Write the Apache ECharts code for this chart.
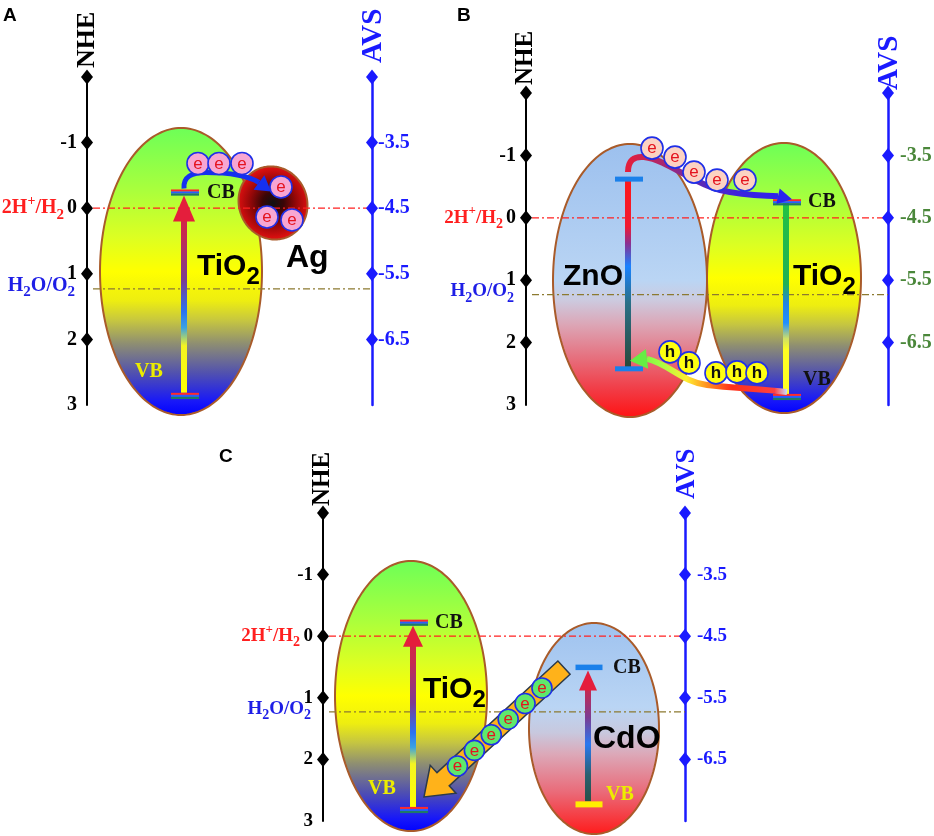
<!DOCTYPE html>
<html><head><meta charset="utf-8">
<script src="https://cdn.jsdelivr.net/npm/echarts@6.0.0/dist/echarts.min.js"></script>
<style>html,body{margin:0;padding:0;background:#fff;}#chart{width:934px;height:836px;}</style>
</head><body><div id="chart"></div>
<script>
// ================= DATA =================
const nheTicks = [-2, -1, 0, 1, 2, 3];
const nheTickLabels = ['', '-1', '0', '1', '2', '3'];
const nheDiamonds = [-2, -1, 0, 1, 2];
const avsTicks = [-2.5, -3.5, -4.5, -5.5, -6.5];
const avsTickLabels = ['', '-3.5', '-4.5', '-5.5', '-6.5'];
const redoxNames = ['2H+/H2', 'H2O/O2'];
const redoxNHE = [0, 1.23];
const panelNames = ['A', 'B', 'C'];

const materialsA = ['TiO2', 'Ag'];
const cbA = [-0.24, null];
const vbA = [2.86, null];
const materialsB = ['ZnO', 'TiO2'];
const cbB = [-0.62, -0.25];
const vbB = [2.42, 2.87];
const materialsC = ['TiO2', 'CdO'];
const cbC = [-0.22, 0.51];
const vbC = [2.82, 2.73];
const carriersA = ['e', 'e', 'e', 'e', 'e', 'e'];
const electronsB = ['e', 'e', 'e', 'e', 'e'];
const holesB = ['h', 'h', 'h', 'h', 'h'];
const carriersC = ['e', 'e', 'e', 'e', 'e', 'e'];

// ================= STYLE / LAYOUT =================
const SERIF = '"Liberation Serif", "Times New Roman", serif';
const SANS = '"Liberation Sans", Arial, sans-serif';
const BLUE = '#1a1aff';

const GRAD = {
  tio2: [[0,'#6cff58'],[0.22,'#aaff3c'],[0.38,'#dcff22'],[0.5,'#ffff00'],[0.6,'#eeee10'],[0.67,'#c6c640'],[0.75,'#8e8e72'],[0.85,'#5252ae'],[0.95,'#1818f8'],[1,'#0000ff']],
  zno: [[0,'#9cc0ee'],[0.5,'#bad5f4'],[0.57,'#cccbe0'],[0.66,'#dca6b6'],[0.78,'#e6707e'],[0.9,'#f23a44'],[1,'#ff1212']],
  cdo: [[0,'#9ec2ef'],[0.4,'#bad5f4'],[0.52,'#c8c8de'],[0.62,'#dca8b8'],[0.8,'#ea6a78'],[1,'#ff1a1a']]
};
const LINEGRAD = {
  tio2: [[0,'#e41e3c'],[0.2,'#c42a52'],[0.42,'#7c3c92'],[0.58,'#2a72f2'],[0.66,'#3aa2e2'],[0.75,'#f4f422'],[1,'#ffff00']],
  tio2b: [[0,'#22c244'],[0.42,'#22b054'],[0.52,'#2284e4'],[0.62,'#2290ff'],[0.7,'#cfe066'],[0.76,'#ffff22'],[1,'#ffff22']],
  zno: [[0,'#ff1818'],[0.25,'#f01a32'],[0.34,'#8a3092'],[0.46,'#1a82ff'],[0.65,'#2a7088'],[1,'#28483a']],
  cdo: [[0,'#e41e3c'],[0.15,'#c42a52'],[0.35,'#7c3c92'],[0.55,'#2a78f0'],[0.78,'#2a6070'],[1,'#2a4e44']]
};

const PANELS = [
  { grid:{left:87, top:77, width:285, height:328}, mats:materialsA, cb:cbA, vb:vbA,
    tickFont:20, redoxFont:20, avsColor:BLUE, avsMargin:6, nameSize:[26,29], nameGap:[9,14], titlePos:[3,6],
    ellipses:[{cx:94, rx:81, top:-1.223, bot:3.152, fill:'tio2'},
              {cx:186, rx:34, top:-0.644, bot:0.484, fill:'ag', rot:-0.4}],
    cols:[{x:97, bar:'stripe', line:'tio2', head:[26,11], cbLab:[23,0], vbLab:[-49,-24], vbColor:'#ecec00'}, null],
    names:[{x:110, y:0.896, size:30}, {x:199, y:0.759, size:32}] },
  { grid:{left:526, top:93, width:362, height:312}, mats:materialsB, cb:cbB, vb:vbB,
    tickFont:20, redoxFont:19, avsColor:'#4a873a', avsMargin:12, nameSize:[25,29], nameGap:[8,3], titlePos:[457,6],
    ellipses:[{cx:104, rx:77, top:-1.183, bot:3.192, fill:'zno'},
              {cx:258, rx:77, top:-1.199, bot:3.128, fill:'tio2'}],
    cols:[{x:102, bar:'blue', line:'zno'},
          {x:260, bar:'stripe', line:'tio2b', cbLab:[22,0], vbLab:[17,-17], vbColor:'#111'}],
    names:[{x:37, y:0.949, size:30}, {x:267, y:0.949, size:30}] },
  { grid:{left:323, top:513, width:362, height:308}, mats:materialsC, cb:cbC, vb:vbC,
    tickFont:19, redoxFont:19, avsColor:BLUE, avsMargin:12, nameSize:[25,27], nameGap:[7,14], titlePos:[219,447],
    ellipses:[{cx:88, rx:76, top:-1.221, bot:3.162, fill:'tio2'},
              {cx:271, rx:65, top:-0.214, bot:3.211, fill:'cdo'}],
    cols:[{x:90, bar:'stripe', line:'tio2', head:[21,10], cbLab:[22,0], vbLab:[-45,-21], vbColor:'#ecec00'},
          {x:265, bar:'cdo', line:'cdo', head:[20,9], cbLab:[25,0], vbLab:[18,-10], vbColor:'#ecec00'}],
    names:[{x:100, y:0.873, size:30}, {x:270, y:1.669, size:32}] }
];

// ================= HELPERS =================
function chemRich(str) {
  let out = '', buf = '', prevLetter = false;
  const flush = () => { if (buf) { out += '{m|' + buf + '}'; buf = ''; } };
  for (const ch of str) {
    if (/\d/.test(ch) && prevLetter) { flush(); out += '{s|' + ch + '}'; prevLetter = false; }
    else if (ch === '+') { flush(); out += '{p|+}'; prevLetter = false; }
    else { buf += ch; prevLetter = /[A-Za-z]/.test(ch); }
  }
  flush();
  return out;
}
function grad(stops, x, y, x2, y2, global) {
  return { type:'linear', x:x, y:y, x2:x2, y2:y2, global:!!global,
           colorStops: stops.map(s => ({offset:s[0], color:s[1]})) };
}
function textEl(x, y, text, opt) {
  const st = Object.assign({ text:text, fill:'#000', align:'left', verticalAlign:'middle' }, opt.style || {});
  st.textAlign = st.align;
  st.textVerticalAlign = st.verticalAlign;
  return { type:'text', x:x, y:y, rotation:opt.rotation || 0, style:st };
}
function carrier(x, y, ch, fill, r) {
  return { type:'group', children:[
    { type:'circle', shape:{cx:x, cy:y, r:r}, style:{fill:fill, stroke:'#1f2fe8', lineWidth:1.6} },
    textEl(x, y + 0.5, ch, { style:{ fill: ch === 'e' ? '#e4141e' : '#111', fontSize:17,
      fontFamily:SANS, fontWeight: ch === 'h' ? 'bold' : 'normal', align:'center' } })
  ]};
}
function headPoly(tip, base, hw) {
  const dx = tip[0] - base[0], dy = tip[1] - base[1], L = Math.hypot(dx, dy);
  const nx = -dy / L, ny = dx / L;
  return [[tip[0], tip[1]], [base[0] + nx*hw, base[1] + ny*hw], [base[0] - nx*hw, base[1] - ny*hw]];
}
function ellipsePoints(cx, cy, rx, ry, rot) {
  const pts = [];
  for (let k = 0; k < 180; k++) {
    const t = k / 180 * 2 * Math.PI;
    const x = rx * Math.cos(t), y = ry * Math.sin(t);
    pts.push([cx + x*Math.cos(rot) - y*Math.sin(rot), cy + x*Math.sin(rot) + y*Math.cos(rot)]);
  }
  return pts;
}
function bars(kind, x, y, isCB) {
  const w = 28;
  if (kind === 'stripe') {
    return [
      { type:'rect', shape:{x:x-w/2, y:y-3, width:w, height:2.2}, style:{fill:'#ff2a2a'} },
      { type:'rect', shape:{x:x-w/2, y:y-1, width:w, height:2.2}, style:{fill:'#2a5cff'} },
      { type:'rect', shape:{x:x-w/2, y:y+1, width:w, height:2.2}, style:{fill:'#1e7a66'} }
    ];
  }
  if (kind === 'blue') {
    return [{ type:'rect', shape:{x:x-w/2, y:y-2.5, width:w, height:5}, style:{fill:'#1a80ea'} }];
  }
  return [{ type:'rect', shape:{x:x-13.5, y:y-3, width:27, height:isCB ? 5.5 : 6},
            style:{fill: isCB ? '#1a80ea' : '#ffee00'} }];
}

// ================= RENDERERS =================
function renderEllipse(p, j, api) {
  const e = p.ellipses[j];
  const c = api.coord([e.cx, (e.top + e.bot) / 2]);
  const t = api.coord([e.cx, e.top]), b = api.coord([e.cx, e.bot]);
  const ry = Math.abs(b[1] - t[1]) / 2;
  let fill;
  if (e.fill === 'ag') {
    fill = { type:'radial', x:0.5, y:0.5, r:0.5, global:false, colorStops:[
      {offset:0, color:'#111'}, {offset:0.3, color:'#3a0606'}, {offset:0.65, color:'#960808'}, {offset:1, color:'#dc1010'}] };
  } else {
    fill = grad(GRAD[e.fill], 0, 0, 0, 1, false);
  }
  return { type:'polygon', shape:{points: ellipsePoints(c[0], c[1], e.rx, ry, e.rot || 0)},
           style:{fill:fill, stroke:'#a95b2a', lineWidth:2} };
}

function renderRedox(p, api, j) {
  const v = api.value(1);
  const a = api.coord([0, v]), b = api.coord([p.grid.width, v]);
  const color = j === 0 ? '#ff2020' : '#8c7a30';
  const labColor = j === 0 ? '#ff1f1f' : '#1e1ee6';
  const off = j === 0 ? 23 : 12;
  const dy = j === 0 ? 0 : -3;
  const f = p.redoxFont;
  return { type:'group', children:[
    { type:'line', shape:{x1:a[0] + 6, y1:a[1], x2:b[0], y2:b[1]},
      style:{stroke:color, lineWidth:1.3, lineDash:[7,3,2,3]} },
    textEl(a[0] - off, a[1] + dy, chemRich(redoxNames[j]), { style:{
      align:'right', fill:labColor,
      rich:{
        m:{fontSize:f, fontFamily:SERIF, fontWeight:'bold', fill:labColor, lineHeight:f + 8, verticalAlign:'middle'},
        p:{fontSize:f - 6, fontFamily:SERIF, fontWeight:'bold', fill:labColor, lineHeight:f - 6, verticalAlign:'top'},
        s:{fontSize:f - 5, fontFamily:SERIF, fontWeight:'bold', fill:labColor, lineHeight:f - 5, verticalAlign:'bottom'}
      } } })
  ]};
}

function renderBand(p, api) {
  const j = api.value(0), cb = api.value(1), vb = api.value(2);
  const col = p.cols[j];
  const pc = api.coord([col.x, cb]), pv = api.coord([col.x, vb]);
  const x = pc[0], lw = 6;
  const ch = [];
  if (col.head) {
    const tipY = pc[1] + 3, baseY = tipY + col.head[0];
    ch.push({ type:'rect', shape:{x:x - lw/2, y:baseY - 1, width:lw, height:(pv[1] - 3) - (baseY - 1)},
              style:{fill: grad(LINEGRAD[col.line], 0, tipY, 0, pv[1], true)} });
    ch.push({ type:'polygon', shape:{points:[[x, tipY], [x - col.head[1], baseY], [x + col.head[1], baseY]]},
              style:{fill:'#e41e3c'} });
  } else {
    ch.push({ type:'rect', shape:{x:x - lw/2, y:pc[1], width:lw, height:pv[1] - pc[1]},
              style:{fill: grad(LINEGRAD[col.line], 0, pc[1], 0, pv[1], true)} });
  }
  bars(col.bar, x + 1, pc[1], true).forEach(b => ch.push(b));
  bars(col.bar, x + 1, pv[1], false).forEach(b => ch.push(b));
  if (col.cbLab) {
    ch.push(textEl(x + col.cbLab[0], pc[1] + col.cbLab[1], 'CB',
      { style:{fill:'#111', fontSize:20, fontFamily:SERIF, fontWeight:'bold'} }));
  }
  if (col.vbLab) {
    ch.push(textEl(x + col.vbLab[0], pv[1] + col.vbLab[1], 'VB',
      { style:{fill:col.vbColor, fontSize:20, fontFamily:SERIF, fontWeight:'bold'} }));
  }
  return { type:'group', children:ch };
}

function renderName(p, j, api) {
  const n = p.names[j];
  const c = api.coord([n.x, n.y]);
  const s = n.size;
  return textEl(c[0], c[1], chemRich(p.mats[j]), { style:{
    fill:'#000',
    rich:{
      m:{fontSize:s, fontFamily:SANS, fontWeight:'bold', fill:'#000', lineHeight:s + 14, verticalAlign:'middle'},
      s:{fontSize:s - 6, fontFamily:SANS, fontWeight:'bold', fill:'#000', lineHeight:s - 6, verticalAlign:'bottom'}
    } } });
}

function renderFrame(p, api) {
  const t = api.coord([0, -2]), r = api.coord([p.grid.width, -2]);
  return { type:'group', children:[
    textEl(t[0], t[1] - p.nameGap[0], 'NHE', { rotation:Math.PI/2,
      style:{fill:'#000', fontSize:p.nameSize[0], fontFamily:SERIF, fontWeight:'bold'} }),
    textEl(r[0] + 2, r[1] - p.nameGap[1], 'AVS', { rotation:Math.PI/2,
      style:{fill:BLUE, fontSize:p.nameSize[1], fontFamily:SERIF, fontWeight:'bold'} })
  ]};
}

function transferA(api) {
  const p = PANELS[0];
  const c = api.coord([p.cols[0].x, cbA[0]]);
  const S = [c[0], c[1] - 4];
  const P = (dx, dy) => (S[0] + dx).toFixed(1) + ' ' + (S[1] + dy).toFixed(1);
  const path = 'M' + P(0,0) + ' C' + P(-1,-12) + ' ' + P(8,-16) + ' ' + P(22,-16) +
               ' C' + P(42,-16) + ' ' + P(62,-14) + ' ' + P(75,-6);
  const tip = [S[0] + 87, S[1] + 3], base = [S[0] + 75, S[1] - 6];
  const ag = p.ellipses[1];
  const agc = api.coord([ag.cx, (ag.top + ag.bot) / 2]);
  const topRel = [[14,-25],[35,-25],[58,-25]];
  const agRel = [[8,-16],[-6,14],[19,17]];
  const ch = [
    { type:'path', shape:{pathData:path}, style:{fill:'none', stroke:'#1530f0', lineWidth:5} },
    { type:'polygon', shape:{points:headPoly(tip, base, 9)}, style:{fill:'#1530f0'} }
  ];
  carriersA.forEach((q, k) => {
    const pos = k < 3 ? [S[0] + topRel[k][0], S[1] + topRel[k][1]]
                      : [agc[0] + agRel[k-3][0], agc[1] + agRel[k-3][1]];
    ch.push(carrier(pos[0], pos[1], q, '#f7a6d2', 11));
  });
  return { type:'group', children:ch };
}

function transferB(api) {
  const p = PANELS[1];
  const z = api.coord([p.cols[0].x, cbB[0]]);
  const S = [z[0], z[1] - 7];
  const t = api.coord([p.cols[1].x, cbB[1]]);
  const E = [t[0] + 6, t[1] - 3];
  const PS = (dx, dy) => (S[0] + dx).toFixed(1) + ' ' + (S[1] + dy).toFixed(1);
  const PE = (dx, dy) => (E[0] + dx).toFixed(1) + ' ' + (E[1] + dy).toFixed(1);
  const ePath = 'M' + PS(0,0) + ' C' + PS(0,-12) + ' ' + PS(6,-16) + ' ' + PS(16,-15) +
                ' C' + PS(40,-12) + ' ' + PS(62,10) + ' ' + PS(92,18) +
                ' C' + PS(118,24) + ' ' + PE(-32,-4) + ' ' + PE(-14,-3);
  const eGrad = grad([[0,'#e41e3c'],[0.22,'#a82870'],[0.45,'#5a2ab8'],[0.7,'#3a22e0'],[1,'#2a22f0']], S[0], 0, E[0], 0, true);

  const vT = api.coord([p.cols[1].x, vbB[1]]);
  const H = [vT[0] + 1, vT[1] - 5];
  const vZ = api.coord([p.cols[0].x, vbB[0]]);
  const T = [vZ[0] + 2, vZ[1] - 8];
  const PH = (dx, dy) => (H[0] + dx).toFixed(1) + ' ' + (H[1] + dy).toFixed(1);
  const hBase = [H[0] - 140, H[1] - 33];
  const hPath = 'M' + PH(0,0) + ' C' + PH(-25,-3) + ' ' + PH(-55,-4) + ' ' + PH(-80,-7) +
                ' C' + PH(-105,-10) + ' ' + PH(-118,-28) + ' ' + hBase[0].toFixed(1) + ' ' + hBase[1].toFixed(1);
  const hGrad = grad([[0,'#c8dcff'],[0.08,'#ff4040'],[0.35,'#ff3018'],[0.5,'#ff8a20'],[0.64,'#ffee30'],[0.82,'#9cff44'],[1,'#66ee44']], H[0], 0, T[0], 0, true);

  const ch = [
    { type:'path', shape:{pathData:ePath}, style:{fill:'none', stroke:eGrad, lineWidth:6} },
    { type:'polygon', shape:{points:headPoly(E, [E[0]-14, E[1]-3], 8)}, style:{fill:'#2a22ee'} },
    { type:'path', shape:{pathData:hPath}, style:{fill:'none', stroke:hGrad, lineWidth:6} },
    { type:'polygon', shape:{points:headPoly(T, hBase, 10)}, style:{fill:'#66ee44'} }
  ];
  const eRel = [[24,-24],[47,-15],[66,0],[89,8],[117,8]];
  electronsB.forEach((q, k) => ch.push(carrier(S[0] + eRel[k][0], S[1] + eRel[k][1], q, '#fcd2c2', 11)));
  const hRel = [[-117,-40],[-98,-29],[-71,-19],[-50,-20],[-30,-19]];
  holesB.forEach((q, k) => ch.push(carrier(H[0] + hRel[k][0], H[1] + hRel[k][1], q, '#ffff10', 11)));
  return { type:'group', children:ch };
}

function transferC(api) {
  const p = PANELS[2];
  const cd = api.coord([p.cols[1].x, cbC[1]]);
  const T0 = [cd[0] - 24, cd[1]];
  const ti = api.coord([p.cols[0].x, vbC[0]]);
  const T1 = [ti[0] + 11, ti[1] - 13];
  const dx = T1[0] - T0[0], dy = T1[1] - T0[1], L = Math.hypot(dx, dy);
  const u = [dx / L, dy / L], n = [-u[1], u[0]];
  const bw = 9, hw = 19, hl = 26;
  const B = [T1[0] - u[0]*hl, T1[1] - u[1]*hl];
  const pts = [
    [T0[0] + n[0]*bw, T0[1] + n[1]*bw], [B[0] + n[0]*bw, B[1] + n[1]*bw], [B[0] + n[0]*hw, B[1] + n[1]*hw],
    [T1[0], T1[1]],
    [B[0] - n[0]*hw, B[1] - n[1]*hw], [B[0] - n[0]*bw, B[1] - n[1]*bw], [T0[0] - n[0]*bw, T0[1] - n[1]*bw]
  ];
  const ch = [{ type:'polygon', shape:{points:pts}, style:{fill:'#ffb21a', stroke:'#2c3a4a', lineWidth:1.5} }];
  carriersC.forEach((q, k) => {
    const d = 30 + 23 * k;
    ch.push(carrier(T0[0] + u[0]*d, T0[1] + u[1]*d, q, '#5fe86c', 10));
  });
  return { type:'group', children:ch };
}
const TRANSFERS = [transferA, transferB, transferC];

// ================= OPTION =================
const xAxis = [], yAxis = [], grid = [], series = [], title = [];
PANELS.forEach((p, i) => {
  grid.push(Object.assign({ containLabel:false, outerBoundsMode:'none' }, p.grid));
  title.push({ text:panelNames[i], left:p.titlePos[0], top:p.titlePos[1], padding:0,
    textStyle:{ fontFamily:SANS, fontWeight:'bold', fontSize:19, color:'#000' } });
  xAxis.push({ gridIndex:i, type:'value', min:0, max:p.grid.width, show:false });
  yAxis.push({ gridIndex:i, type:'value', inverse:true, min:-2, max:3, interval:1, position:'left',
    axisLine:{ show:true, onZero:false, lineStyle:{color:'#000', width:2} },
    axisTick:{ show:false }, splitLine:{ show:false },
    axisLabel:{ show:true, margin:10, color:'#000', fontFamily:SERIF, fontWeight:'bold', fontSize:p.tickFont,
      formatter: v => { const k = nheTicks.findIndex(t => Math.abs(t - v) < 1e-6); return k >= 0 ? nheTickLabels[k] : ''; } } });
  yAxis.push({ gridIndex:i, type:'value', min:-7.5, max:-2.5, interval:0.5, position:'right',
    axisLine:{ show:true, onZero:false, lineStyle:{color:BLUE, width:2.5} },
    axisTick:{ show:false }, splitLine:{ show:false },
    axisLabel:{ show:true, margin:p.avsMargin, color:p.avsColor, fontFamily:SERIF, fontWeight:'bold', fontSize:p.tickFont,
      formatter: v => { const k = avsTicks.findIndex(t => Math.abs(t - v) < 1e-6); return k >= 0 ? avsTickLabels[k] : ''; } } });

  const base = { type:'custom', xAxisIndex:i, yAxisIndex:2*i, silent:true, clip:false };
  series.push(Object.assign({}, base, { name:'ellipses' + i, z:1,
    data: p.mats.map((m, j) => [j, 0]),
    renderItem: (params, api) => renderEllipse(p, params.dataIndex, api) }));
  series.push(Object.assign({}, base, { name:'redox' + i, z:2,
    data: redoxNHE.map(v => [0, v]),
    renderItem: (params, api) => renderRedox(p, api, params.dataIndex) }));
  const bandData = [];
  p.cb.forEach((c, j) => { if (c != null) bandData.push([j, c, p.vb[j]]); });
  series.push(Object.assign({}, base, { name:'bands' + i, z:3, data: bandData,
    renderItem: (params, api) => renderBand(p, api) }));
  series.push(Object.assign({}, base, { name:'names' + i, z:3,
    data: p.mats.map((m, j) => [j, 0]),
    renderItem: (params, api) => renderName(p, params.dataIndex, api) }));
  series.push(Object.assign({}, base, { name:'transfer' + i, z:4, data: [[0, 0]],
    renderItem: (params, api) => TRANSFERS[i](api) }));
  series.push(Object.assign({}, base, { name:'frame' + i, z:5, data: [[0, -2]],
    renderItem: (params, api) => renderFrame(p, api) }));
  series.push({ type:'scatter', xAxisIndex:i, yAxisIndex:2*i, z:6, silent:true, clip:false,
    symbol:'diamond', symbolSize:[12,15], itemStyle:{color:'#000', opacity:1},
    data: nheDiamonds.map(v => [0, v]) });
  series.push({ type:'scatter', xAxisIndex:i, yAxisIndex:2*i + 1, z:6, silent:true, clip:false,
    symbol:'diamond', symbolSize:[12,15], itemStyle:{color:BLUE, opacity:1},
    data: avsTicks.map(v => [p.grid.width, v]) });
});

const chart = echarts.init(document.getElementById('chart'), null, { renderer:'canvas' });
chart.setOption({ animation:false, backgroundColor:'#fff', title, grid, xAxis, yAxis, series, tooltip:{show:false} });
</script>
</body></html>
